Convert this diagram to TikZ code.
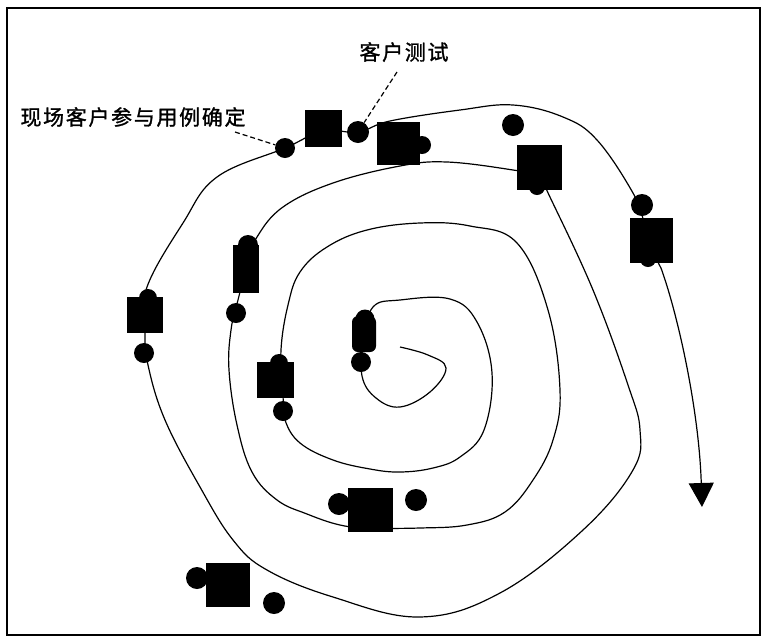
\documentclass[tikz,border=0pt]{standalone}
\usepackage{fontspec}
\newfontfamily\cjk[LetterSpace=8, FakeBold=1.2]{Noto Sans CJK SC}
\usetikzlibrary{arrows.meta}
\begin{document}
\begin{tikzpicture}[x=1pt,y=-1pt,
  spiral/.style={line width=1.2pt, black},
  blk/.style={rectangle, fill=black, draw=none, inner sep=0pt},
  dot/.style={circle, fill=black, draw=none, inner sep=0pt, minimum size=#1},
  dot/.default=21pt,
  lbl/.style={font=\cjk\fontsize{21}{24}\selectfont, inner sep=0pt},
  dsh/.style={line width=1.2pt, dash pattern=on 5pt off 3pt}]
\useasboundingbox (0,0) rectangle (766,638);
\draw[line width=1.5pt] (7,8) rectangle (760,635);

% spiral
\draw[spiral] plot[smooth, tension=0.65] coordinates {
 (400,347) (428,355) (446,368) (430,392) (400,407) (376,398) (362,376) (364,340)
 (373,307) (400,300) (450,299) (477,322) (492,373) (484,430) (460,457) (433,468)
 (400,472) (370,469) (333,460) (300,443) (285,420) (283,395) (281,350) (288,305)
 (300,272) (327,247) (367,230) (420,223) (470,226) (517,243) (548,310) (560,390)
 (553,440) (533,480) (505,512) (467,525) (420,528) (370,528) (340,525) (307,514)
 (277,500) (252,472) (237,425) (229,370) (231,330) (238,300) (248,262) (257,237)
 (283,207) (333,183) (400,166) (447,162) (513,170) (539,176) (549,195) (593,290)
 (628,385) (640,430) (633,470) (583,530) (500,593) (420,617) (333,597) (267,570)
 (233,540) (200,487) (165,420) (148,365) (145,330) (147,287) (183,223) (217,177)
 (285,148) (323,131) (358,132) (390,121) (460,110) (513,105) (563,117) (597,140)
 (633,193) (645,225) (655,255) (661,268)};
\coordinate (arrend) at (702,507);
\draw[spiral, -{Triangle[length=24pt, width=25pt]}] (661,268) .. controls (678,315) and (699,410) .. (arrend);

% inner symbol
\node[blk, rounded corners=6pt, minimum width=24pt, minimum height=36pt] (s1) at (364,334) {};
\node[dot=19pt] (s1t) at (365,319) {};
\node[dot=20pt] (s1b) at (361,362) {};

% box with top bump
\node[blk, minimum width=37pt, minimum height=36pt] (s2) at (275.5,380) {};
\node[dot=18pt] (s2t) at (279,363) {};
\node[dot=20pt] (s2d) at (283,411) {};

% tall box
\node[blk, minimum width=26pt, minimum height=48pt] (s3) at (246,269) {};
\node[dot=20pt] (s3t) at (248,245) {};
\node[dot=20pt] (s3d) at (236,313) {};

% left box
\node[blk, minimum width=36pt, minimum height=36pt] (s4) at (145,315) {};
\node[dot=18pt] (s4t) at (148,298) {};
\node[dot=20pt] (s4d) at (144,353) {};

% top boxes
\node[dot=20pt] (d1) at (285,148) {};
\node[blk, minimum width=37pt, minimum height=37pt] (s5) at (323.5,128.5) {};
\node[dot=22pt] (d2) at (358,132) {};
\node[blk, minimum width=43pt, minimum height=43pt] (s6) at (398.5,143.5) {};
\node[dot=18pt] (s6r) at (422,145) {};
\node[dot=22pt] (d3) at (513,125) {};
\node[blk, minimum width=45pt, minimum height=45pt] (s7) at (539.5,167.5) {};
\node[dot=16pt] (s7b) at (537,187) {};
\node[dot=22pt] (d4) at (642,205) {};
\node[blk, minimum width=43pt, minimum height=45pt] (s8) at (651.5,240.5) {};
\node[dot=16pt] (s8b) at (648,259) {};

% bottom boxes
\node[blk, minimum width=45pt, minimum height=44pt] (s9) at (370.5,510) {};
\node[dot=22pt] (s9l) at (339,504) {};
\node[dot=22pt] (d5) at (416,500) {};
\node[blk, minimum width=44pt, minimum height=44pt] (s10) at (228,585) {};
\node[dot=22pt] (s10l) at (197,578) {};
\node[dot=22pt] (d6) at (274,603) {};

% labels
\node[lbl] (t1) at (404,52) {客户测试};
\node[lbl] (t2) at (133,117) {现场客户参与用例确定};
\coordinate (c1) at (397,72);
\coordinate (c2) at (235,132);
\draw[dsh] (c1) -- (d2);
\draw[dsh] (c2) -- (d1);
\end{tikzpicture}
\end{document}
